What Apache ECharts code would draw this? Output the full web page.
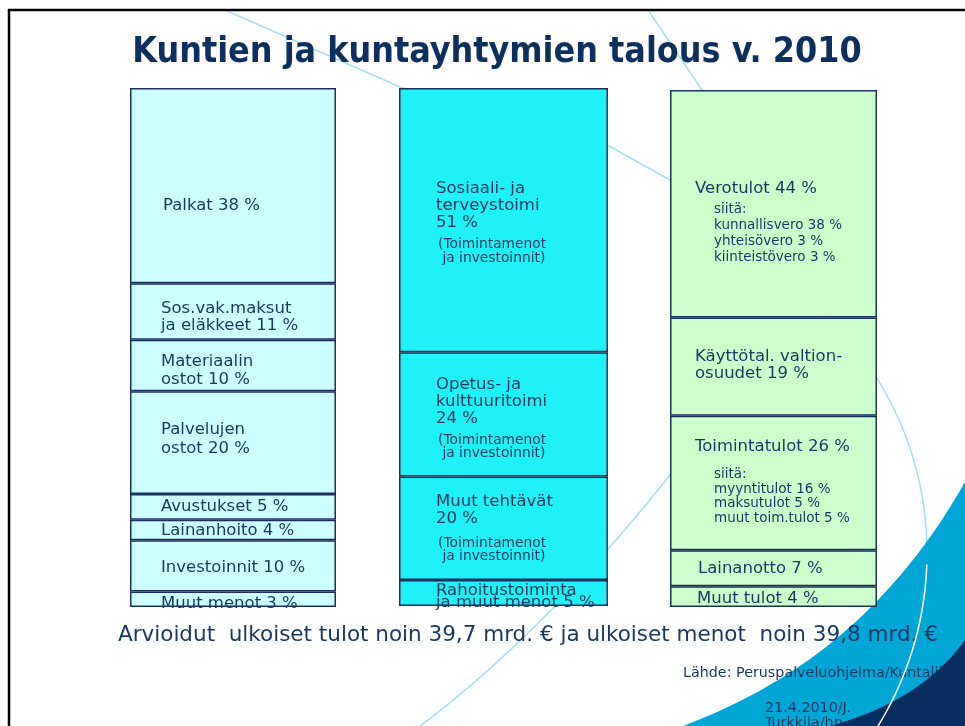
<!DOCTYPE html>
<html><head><meta charset="utf-8">
<script src="https://cdn.jsdelivr.net/npm/echarts@6/dist/echarts.min.js"></script>
<style>html,body{margin:0;padding:0;background:#fff}#c{width:965px;height:726px}</style>
</head><body><div id="c"></div>
<script>
// ---------- DATA ----------
const titleText = 'Kuntien ja kuntayhtymien talous v. 2010';
const menotNames = ['Palkat', 'Sos.vak.maksut\nja eläkkeet', 'Materiaalin\nostot', 'Palvelujen\nostot', 'Avustukset', 'Lainanhoito', 'Investoinnit', 'Muut menot'];
const menotValues = [38, 11, 10, 20, 5, 4, 10, 3];
const tehtavatNames = ['Sosiaali- ja\nterveystoimi', 'Opetus- ja\nkulttuuritoimi', 'Muut tehtävät', 'Rahoitustoiminta\nja muut menot'];
const tehtavatValues = [51, 24, 20, 5];
const tehtavatNote = ['(Toimintamenot', ' ja investoinnit)'];
const tulotNames = ['Verotulot', 'Käyttötal. valtion-\nosuudet', 'Toimintatulot', 'Lainanotto', 'Muut tulot'];
const tulotValues = [44, 19, 26, 7, 4];
const verotulotParts = ['kunnallisvero', 'yhteisövero', 'kiinteistövero'];
const verotulotValues = [38, 3, 3];
const toimintatulotParts = ['myyntitulot', 'maksutulot', 'muut toim.tulot'];
const toimintatulotValues = [16, 5, 5];
const ulkoisetTulot = '39,7';
const ulkoisetMenot = '39,8';
const sourceText = 'Lähde: Peruspalveluohjelma/Kuntaliitto';
const dateText = ['21.4.2010/J.', 'Turkkila/hp'];

// ---------- STYLE ----------
const FONT = "'DejaVu Sans', Verdana, sans-serif";
const TXT = '#17375e';
const BORDER = '#18315c';
const LIGHT = '#a9ddf1';
const MAIN = 16.5;
const sum = a => a.reduce((s, v) => s + v, 0);
const pct = v => v + ' %';
const R = (lines, st) => lines.map(l => '{' + st + '|' + l + '}').join('\n');

const leftLayout = [
  {dx: 33, dy: 20, lh: 17}, {dx: 31, dy: 6, lh: 17}, {dx: 31, dy: 5.5, lh: 18}, {dx: 31, dy: -3, lh: 19},
  {dx: 31, dy: 0, lh: 17}, {dx: 31, dy: 1, lh: 17}, {dx: 31, dy: 2, lh: 17}, {dx: 31, dy: 4, lh: 17}
];
const midLayout = [
  {dx: 37, dy: 2.5, n1: 20}, {dx: 37, dy: 4, n1: 20}, {dx: 37, dy: 0, n1: 23}, {dx: 37, dy: 3.5}
];
const rightLayout = [
  {dx: 25, dy: 17}, {dx: 25, dy: -1.5}, {dx: 25, dy: -7}, {dx: 28, dy: 0}, {dx: 27, dy: 2}
];

function leftText(k) {
  return R((menotNames[k] + ' ' + pct(menotValues[k])).split('\n'), 'a');
}
function midText(k) {
  if (k < 3) {
    return R((tehtavatNames[k] + '\n' + pct(tehtavatValues[k])).split('\n'), 'm') + '\n' +
      '{n1|' + tehtavatNote[0] + '}\n{n2|' + tehtavatNote[1] + '}';
  }
  return R((tehtavatNames[k] + ' ' + pct(tehtavatValues[k])).split('\n'), 't');
}
function rightText(k) {
  const main = (tulotNames[k] + ' ' + pct(tulotValues[k])).split('\n');
  if (k === 0) {
    return R(main, 'm') + '\n' + R(['siitä:'].concat(verotulotParts.map((p, i) => p + ' ' + pct(verotulotValues[i]))), 's');
  }
  if (k === 2) {
    return R(main, 'm2') + '\n' + R(['siitä:'].concat(toimintatulotParts.map((p, i) => p + ' ' + pct(toimintatulotValues[i]))), 's2');
  }
  return R(main, 'a');
}

function buildColumn(col, values, color, layout, textFn, richFn) {
  const out = [];
  for (let k = values.length - 1; k >= 0; k--) {
    const L = layout[k];
    out.push({
      type: 'bar', xAxisIndex: col, yAxisIndex: col, stack: 'c' + col,
      barWidth: '100%', data: [values[k]], silent: true, animation: false,
      itemStyle: {color: color, borderColor: BORDER, borderWidth: 1.5},
      label: {
        show: true, position: 'insideLeft', distance: L.dx, offset: [0, L.dy],
        color: TXT, fontFamily: FONT, fontSize: MAIN,
        formatter: () => textFn(k), rich: richFn(L)
      }
    });
  }
  return out;
}

const base = {color: TXT, fontFamily: FONT};
const leftRich = L => ({a: Object.assign({fontSize: MAIN, lineHeight: L.lh}, base)});
const midRich = L => ({
  m: Object.assign({fontSize: MAIN, lineHeight: 17}, base),
  n1: Object.assign({fontSize: 13.8, lineHeight: L.n1 || 20, verticalAlign: 'bottom', padding: [0, 0, 0, 2]}, base),
  n2: Object.assign({fontSize: 13.8, lineHeight: 13, padding: [0, 0, 0, 2]}, base),
  t: Object.assign({fontSize: MAIN, lineHeight: 12}, base)
});
const rightRich = L => ({
  a: Object.assign({fontSize: MAIN, lineHeight: 17}, base),
  m: Object.assign({fontSize: MAIN, lineHeight: 26}, base),
  s: Object.assign({fontSize: 13.5, lineHeight: 16, padding: [0, 0, 0, 19]}, base),
  m2: Object.assign({fontSize: MAIN, lineHeight: 41.5}, base),
  s2: Object.assign({fontSize: 13.5, lineHeight: 14.5, padding: [0, 0, 0, 19]}, base)
});

const series = [].concat(
  buildColumn(0, menotValues, '#ccffff', leftLayout, leftText, leftRich),
  buildColumn(1, tehtavatValues, '#20f0f8', midLayout, midText, midRich),
  buildColumn(2, tulotValues, '#ccffcc', rightLayout, rightText, rightRich)
);

const columnTotals = [sum(menotValues), sum(tehtavatValues), sum(tulotValues)];

// ---------- DECORATION GEOMETRY ----------
function cubic(p0, p1, p2, p3, n) {
  const pts = [];
  for (let i = 0; i <= n; i++) {
    const t = i / n, u = 1 - t;
    pts.push([
      u*u*u*p0[0] + 3*u*u*t*p1[0] + 3*u*t*t*p2[0] + t*t*t*p3[0],
      u*u*u*p0[1] + 3*u*u*t*p1[1] + 3*u*t*t*p2[1] + t*t*t*p3[1]
    ]);
  }
  return pts;
}
const arcPts = [];
for (let a = -52; a <= 45; a += 1) {
  const r = a * Math.PI / 180;
  arcPts.push([597 + 330 * Math.cos(r), 553 + 330 * Math.sin(r)]);
}
const whiteArc = arcPts.filter(p => p[1] >= 562);
const bluePoly = cubic([683, 726], [770, 693], [880, 632], [965, 482], 40).concat([[965, 726]]);
const navyPoly = cubic([830, 726], [880, 712], [930, 688], [965, 640], 30).concat([[965, 726]]);

const option = {
  animation: false,
  backgroundColor: '#ffffff',
  grid: [
    {left: 130, top: 88, width: 206, height: 519},
    {left: 399, top: 88, width: 209, height: 518},
    {left: 670, top: 90, width: 207, height: 517}
  ],
  xAxis: [0, 1, 2].map(i => ({type: 'category', gridIndex: i, data: [''], show: false})),
  yAxis: [0, 1, 2].map(i => ({type: 'value', gridIndex: i, min: 0, max: columnTotals[i], show: false})),
  series: series,
  graphic: {elements: [
    {type: 'polyline', z: 0, silent: true, shape: {points: [[225, 10], [400, 87], [609, 146], [670, 180], [700, 200]]}, style: {stroke: LIGHT, lineWidth: 1.5, fill: null}},
    {type: 'polyline', z: 0, silent: true, shape: {points: [[648, 10], [702, 90], [730, 140]]}, style: {stroke: LIGHT, lineWidth: 1.5, fill: null}},
    {type: 'bezierCurve', z: 0, silent: true, shape: {x1: 415, y1: 730, cpx1: 560, cpy1: 622, x2: 705, y2: 430}, style: {stroke: LIGHT, lineWidth: 1.5, fill: null}},
    {type: 'polyline', z: 0, silent: true, shape: {points: arcPts}, style: {stroke: LIGHT, lineWidth: 1.5, fill: null}},
    {type: 'polygon', z: 0, silent: true, shape: {points: bluePoly}, style: {fill: '#00a6d6', stroke: null}},
    {type: 'text', z: 0, silent: true, x: 118, y: 635, style: {text: 'Arvioidut  ulkoiset tulot noin ' + ulkoisetTulot + ' mrd. € ja ulkoiset menot  noin ' + ulkoisetMenot + ' mrd. €', fill: TXT, font: '21.5px ' + FONT, textVerticalAlign: 'middle'}},
    {type: 'text', z: 0, silent: true, x: 683, y: 673, style: {text: sourceText, fill: TXT, font: '14.3px ' + FONT, textVerticalAlign: 'middle'}},
    {type: 'text', z: 0, silent: true, x: 765, y: 708, style: {text: dateText[0], fill: TXT, font: '14.3px ' + FONT, textVerticalAlign: 'middle'}},
    {type: 'text', z: 0, silent: true, x: 765, y: 723, style: {text: dateText[1], fill: TXT, font: '14.3px ' + FONT, textVerticalAlign: 'middle'}},
    {type: 'polygon', z: 0, silent: true, shape: {points: navyPoly}, style: {fill: '#062e5f', stroke: null}},
    {type: 'polyline', z: 0, silent: true, shape: {points: whiteArc}, style: {stroke: '#ffffff', lineWidth: 1.5, fill: null}},
    {type: 'text', z: 5, silent: true, x: 497, y: 53, style: {text: titleText, fill: '#0d2f5e', font: "bold 35.5px 'DejaVu Sans Condensed', 'DejaVu Sans', sans-serif", textAlign: 'center', textVerticalAlign: 'middle'}},
    {type: 'line', z: 10, silent: true, shape: {x1: 8, y1: 10, x2: 965, y2: 10}, style: {stroke: '#000', lineWidth: 2.5}},
    {type: 'line', z: 10, silent: true, shape: {x1: 9, y1: 9, x2: 9, y2: 726}, style: {stroke: '#000', lineWidth: 2.5}}
  ]}
};

const chart = echarts.init(document.getElementById('c'), null, {renderer: 'canvas'});
chart.setOption(option);
</script>
</body></html>
